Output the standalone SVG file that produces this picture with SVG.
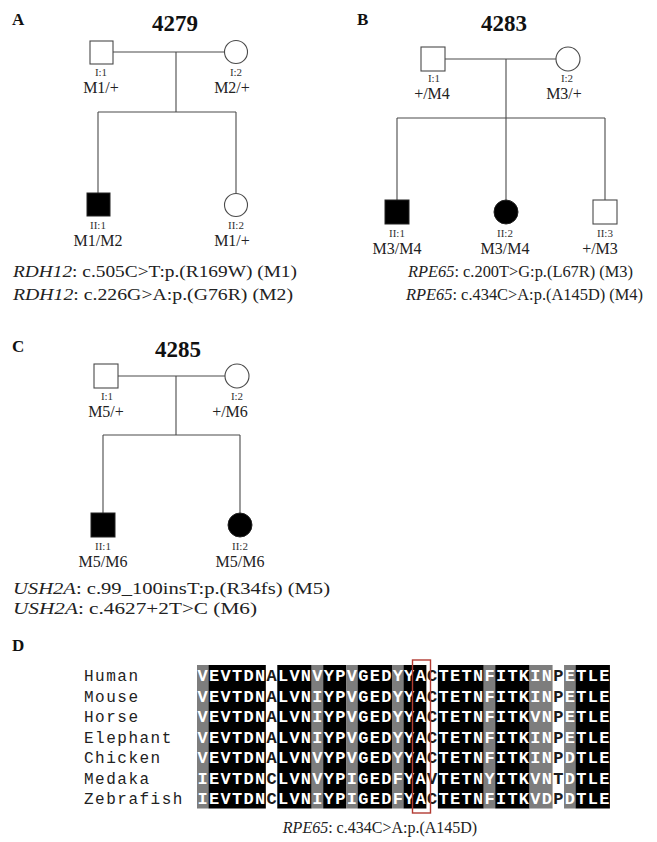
<svg xmlns="http://www.w3.org/2000/svg" width="657" height="842" viewBox="0 0 657 842">
  <style>
    .bg { fill: #ffffff; }
    .panel { font-family: "Liberation Serif", "Times New Roman", serif; font-weight: bold; font-size: 17px; fill: #111; }
    .fam { font-family: "Liberation Serif", "Times New Roman", serif; font-weight: bold; font-size: 23px; fill: #111; text-anchor: middle; }
    .line { stroke: #4a4a4a; stroke-width: 1.1; fill: none; }
    .open { fill: #ffffff; stroke: #4a4a4a; stroke-width: 1.1; }
    .aff { fill: #000000; stroke: #222; stroke-width: 1; }
    .id { font-family: "Liberation Serif", "Times New Roman", serif; font-size: 11px; fill: #333; text-anchor: middle; }
    .gt { font-family: "Liberation Serif", "Times New Roman", serif; font-size: 16px; fill: #222; text-anchor: middle; }
    .var { font-family: "Liberation Serif", "Times New Roman", serif; font-size: 17px; fill: #222; }
    .cap { font-family: "Liberation Serif", "Times New Roman", serif; font-size: 16px; fill: #222; text-anchor: middle; }
    .gene { font-style: italic; }
    .sp { font-family: "Liberation Mono", "Courier New", monospace; font-size: 16px; letter-spacing: 1.5px; fill: #222; }
    .seq { font-family: "Liberation Mono", "Courier New", monospace; font-weight: bold; font-size: 17px; letter-spacing: 1.27px; fill: #ffffff; }
    .w { fill: #1a1a1a; }
    .colB { fill: #000000; }
    .colG { fill: #7d7d7d; }
  </style>

  <rect class="bg" x="0" y="0" width="657" height="842"/>

  <!-- ===== Panel A : family 4279 ===== -->
  <text class="panel" x="12" y="25">A</text>
  <text class="fam" x="175" y="31">4279</text>

  <g id="A-connectors">
    <line class="line" x1="113" y1="52" x2="224.5" y2="52"/>
    <line class="line" x1="176" y1="52" x2="176" y2="112"/>
    <line class="line" x1="98" y1="112" x2="236" y2="112"/>
    <line class="line" x1="98" y1="112" x2="98" y2="193"/>
    <line class="line" x1="236" y1="112" x2="236" y2="193.5"/>
  </g>
  <g id="A-I1">
    <rect class="open" x="90" y="41" width="23" height="23"/>
    <text class="id" x="101" y="76">I:1</text>
    <text class="gt" x="101" y="93">M1/+</text>
  </g>
  <g id="A-I2">
    <circle class="open" cx="236" cy="52" r="11.5"/>
    <text class="id" x="236" y="76">I:2</text>
    <text class="gt" x="232" y="93">M2/+</text>
  </g>
  <g id="A-II1">
    <rect class="aff" x="87" y="193" width="23" height="23"/>
    <text class="id" x="98" y="229">II:1</text>
    <text class="gt" x="98" y="246">M1/M2</text>
  </g>
  <g id="A-II2">
    <circle class="open" cx="236" cy="205" r="11.5"/>
    <text class="id" x="236" y="229">II:2</text>
    <text class="gt" x="232" y="246">M1/+</text>
  </g>
  <text class="var" x="13" y="277" textLength="284" lengthAdjust="spacingAndGlyphs"><tspan class="gene">RDH12</tspan>: c.505C&gt;T:p.(R169W) (M1)</text>
  <text class="var" x="13" y="300" textLength="280" lengthAdjust="spacingAndGlyphs"><tspan class="gene">RDH12</tspan>: c.226G&gt;A:p.(G76R)  (M2)</text>

  <!-- ===== Panel B : family 4283 ===== -->
  <text class="panel" x="357" y="25">B</text>
  <text class="fam" x="504" y="31">4283</text>

  <g id="B-connectors">
    <line class="line" x1="445" y1="59" x2="556" y2="59"/>
    <line class="line" x1="506" y1="59" x2="506" y2="118"/>
    <line class="line" x1="397" y1="118" x2="605" y2="118"/>
    <line class="line" x1="397" y1="118" x2="397" y2="200"/>
    <line class="line" x1="506" y1="118" x2="506" y2="200"/>
    <line class="line" x1="605" y1="118" x2="605" y2="200"/>
  </g>
  <g id="B-I1">
    <rect class="open" x="421" y="47" width="24" height="24"/>
    <text class="id" x="434" y="82">I:1</text>
    <text class="gt" x="432" y="99">+/M4</text>
  </g>
  <g id="B-I2">
    <circle class="open" cx="568" cy="59" r="12"/>
    <text class="id" x="567" y="82">I:2</text>
    <text class="gt" x="564" y="99">M3/+</text>
  </g>
  <g id="B-II1">
    <rect class="aff" x="385" y="200" width="24" height="24"/>
    <text class="id" x="397" y="237">II:1</text>
    <text class="gt" x="397" y="254">M3/M4</text>
  </g>
  <g id="B-II2">
    <circle class="aff" cx="506" cy="212" r="12"/>
    <text class="id" x="505" y="237">II:2</text>
    <text class="gt" x="505" y="254">M3/M4</text>
  </g>
  <g id="B-II3">
    <rect class="open" x="593" y="200" width="24" height="24"/>
    <text class="id" x="605" y="237">II:3</text>
    <text class="gt" x="600" y="254">+/M3</text>
  </g>
  <text class="var" x="408" y="277" textLength="225" lengthAdjust="spacingAndGlyphs"><tspan class="gene">RPE65</tspan>: c.200T&gt;G:p.(L67R) (M3)</text>
  <text class="var" x="406" y="300" textLength="237" lengthAdjust="spacingAndGlyphs"><tspan class="gene">RPE65</tspan>: c.434C&gt;A:p.(A145D) (M4)</text>

  <!-- ===== Panel C : family 4285 ===== -->
  <text class="panel" x="12" y="352">C</text>
  <text class="fam" x="178" y="357">4285</text>

  <g id="C-connectors">
    <line class="line" x1="118" y1="376" x2="225" y2="376"/>
    <line class="line" x1="176" y1="376" x2="176" y2="435"/>
    <line class="line" x1="103" y1="435" x2="240" y2="435"/>
    <line class="line" x1="103" y1="435" x2="103" y2="513"/>
    <line class="line" x1="240" y1="435" x2="240" y2="513"/>
  </g>
  <g id="C-I1">
    <rect class="open" x="94" y="364" width="24" height="24"/>
    <text class="id" x="107" y="400">I:1</text>
    <text class="gt" x="106" y="417">M5/+</text>
  </g>
  <g id="C-I2">
    <circle class="open" cx="237" cy="376" r="12"/>
    <text class="id" x="237" y="400">I:2</text>
    <text class="gt" x="230" y="417">+/M6</text>
  </g>
  <g id="C-II1">
    <rect class="aff" x="91" y="513" width="24" height="24"/>
    <text class="id" x="103" y="550">II:1</text>
    <text class="gt" x="103" y="567">M5/M6</text>
  </g>
  <g id="C-II2">
    <circle class="aff" cx="240" cy="525" r="12"/>
    <text class="id" x="240" y="550">II:2</text>
    <text class="gt" x="240" y="567">M5/M6</text>
  </g>
  <text class="var" x="13" y="594" textLength="317" lengthAdjust="spacingAndGlyphs"><tspan class="gene">USH2A</tspan>: c.99_100insT:p.(R34fs) (M5)</text>
  <text class="var" x="13" y="614" textLength="244" lengthAdjust="spacingAndGlyphs"><tspan class="gene">USH2A</tspan>: c.4627+2T&gt;C (M6)</text>

  <!-- ===== Panel D : RPE65 conservation alignment ===== -->
  <text class="panel" x="12" y="651">D</text>

  <!-- column shading: black = identical, grey = similar, white = variable -->
  <g id="D-shading">
    <rect class="colG" x="197" y="665" width="11.47" height="143.5"/>
    <rect class="colB" x="208.47" y="665" width="57.35" height="143.5"/>
    <rect class="colB" x="277.29" y="665" width="34.41" height="143.5"/>
    <rect class="colG" x="311.7" y="665" width="11.47" height="143.5"/>
    <rect class="colB" x="323.17" y="665" width="22.94" height="143.5"/>
    <rect class="colG" x="346.11" y="665" width="11.47" height="143.5"/>
    <rect class="colB" x="357.58" y="665" width="34.41" height="143.5"/>
    <rect class="colG" x="391.99" y="665" width="11.47" height="143.5"/>
    <rect class="colB" x="403.46" y="665" width="22.94" height="143.5"/>
    <rect class="colB" x="437.87" y="665" width="45.88" height="143.5"/>
    <rect class="colG" x="483.75" y="665" width="11.47" height="143.5"/>
    <rect class="colB" x="495.22" y="665" width="34.41" height="143.5"/>
    <rect class="colG" x="529.63" y="665" width="22.94" height="143.5"/>
    <rect class="colG" x="564.04" y="665" width="11.47" height="143.5"/>
    <rect class="colB" x="575.51" y="665" width="34.41" height="143.5"/>
  </g>

  <g id="D-species">
    <text class="sp" x="84" y="681">Human</text>
    <text class="sp" x="84" y="701.5">Mouse</text>
    <text class="sp" x="84" y="722">Horse</text>
    <text class="sp" x="84" y="742.5">Elephant</text>
    <text class="sp" x="84" y="763">Chicken</text>
    <text class="sp" x="84" y="783.5">Medaka</text>
    <text class="sp" x="84" y="804">Zebrafish</text>
  </g>

  <g id="D-sequences">
    <text class="seq" x="197.6" y="681">VEVTDN<tspan class="w">A</tspan>LVNVYPVGEDYYA<tspan class="w">C</tspan>TETNFITKIN<tspan class="w">P</tspan>ETLE</text>
    <text class="seq" x="197.6" y="701.5">VEVTDN<tspan class="w">A</tspan>LVNIYPVGEDYYA<tspan class="w">C</tspan>TETNFITKIN<tspan class="w">P</tspan>ETLE</text>
    <text class="seq" x="197.6" y="722">VEVTDN<tspan class="w">A</tspan>LVNIYPVGEDYYA<tspan class="w">C</tspan>TETNFITKVN<tspan class="w">P</tspan>ETLE</text>
    <text class="seq" x="197.6" y="742.5">VEVTDN<tspan class="w">A</tspan>LVNIYPVGEDYYA<tspan class="w">C</tspan>TETNFITKIN<tspan class="w">P</tspan>ETLE</text>
    <text class="seq" x="197.6" y="763">VEVTDN<tspan class="w">A</tspan>LVNVYPVGEDYYA<tspan class="w">C</tspan>TETNFITKIN<tspan class="w">P</tspan>DTLE</text>
    <text class="seq" x="197.6" y="783.5">IEVTDN<tspan class="w">C</tspan>LVNVYPIGEDFYA<tspan class="w">V</tspan>TETNYITKVN<tspan class="w">T</tspan>DTLE</text>
    <text class="seq" x="197.6" y="804">IEVTDN<tspan class="w">C</tspan>LVNIYPIGEDFYA<tspan class="w">C</tspan>TETNFITKVD<tspan class="w">P</tspan>DTLE</text>
  </g>

  <!-- highlighted position A145 -->
  <rect id="D-highlight" x="412.5" y="660" width="18" height="153" fill="none" stroke="#b23b32" stroke-width="1.4"/>

  <text class="cap" x="380" y="833"><tspan class="gene">RPE65</tspan>: c.434C&gt;A:p.(A145D)</text>
</svg>
